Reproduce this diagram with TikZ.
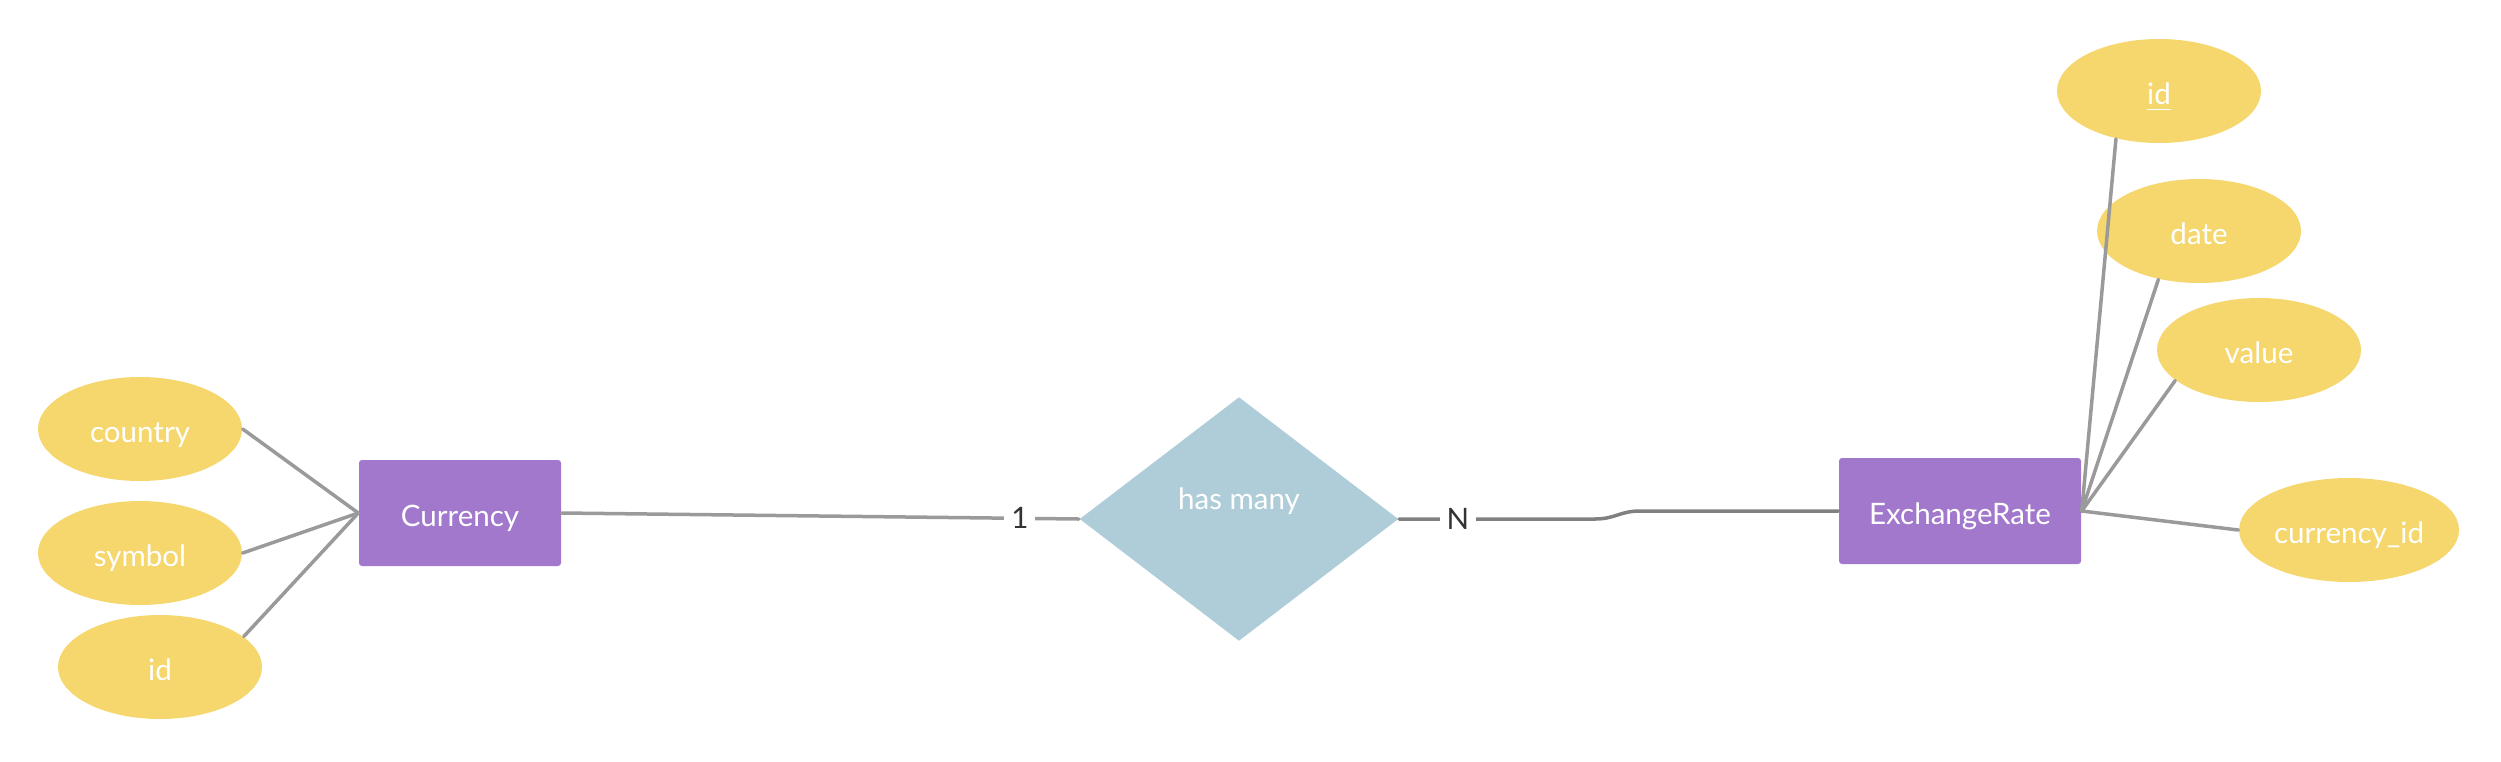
\documentclass[tikz,border=0pt]{standalone}
\usepackage{fontspec}
\setmainfont{Lato}
\usetikzlibrary{shapes.geometric}
\definecolor{attrfill}{HTML}{F5D76E}
\definecolor{entfill}{HTML}{A178CC}
\definecolor{relfill}{HTML}{AFCDD8}
\definecolor{linkgray}{HTML}{9A9A9A}
\definecolor{linkdark}{HTML}{808080}
\definecolor{cardtext}{HTML}{333333}

\begin{document}
\begin{tikzpicture}[x=0.1mm, y=-0.1mm,
    font=\fontsize{8.4}{10}\selectfont,
    attr/.style={ellipse, fill=attrfill, minimum width=20.4mm, minimum height=10.4mm, inner sep=0pt, text=white, text height=2.7mm, text depth=0pt},
    entity/.style={rectangle, fill=entfill, minimum width=20.2mm, minimum height=10.6mm, rounded corners=0.3mm, text=white, text height=2.7mm, text depth=0pt},
    rel/.style={diamond, fill=relfill, minimum width=31.9mm, minimum height=24.4mm, inner sep=0pt},
    link/.style={draw=linkgray, line width=0.35mm, line cap=round},
    card/.style={fill=white, text=cardtext, inner sep=0.7mm}]
    \useasboundingbox (0,0) rectangle (2501,761);

    \node[attr] (country) at (140,429) {country};
    \node[attr] (symbol) at (140,553) {symbol};
    \node[attr] (curid) at (160,667) {id};
    \node[entity] (currency) at (460,513) {Currency};
    \node[rel, label={[text=white, yshift=1.8mm]center:has many}] (hasmany) at (1239,519) {};
    \node[entity, minimum width=24.2mm] (rate) at (1960,511) {ExchangeRate};
    \node[attr] (rateid) at (2159,91) {\underline{id}};
    \node[attr] (date) at (2199,231) {date};
    \node[attr] (value) at (2259,350) {value};
    \node[attr, minimum width=22mm] (curref) at (2349,530) {currency\_id};

    \draw[link] (country.east) -- (currency.west);
    \draw[link] (symbol.east) -- (currency.west);
    \draw[link] (curid.20) -- (currency.west);
    \draw[link] (currency.east) -- node[card, pos=0.886] {1} (hasmany.west);

    \coordinate (bendA) at (1595,519);
    \coordinate (bendB) at (1640,511);
    \draw[link, draw=linkdark] (hasmany.east) -- node[card, pos=0.3] {N} (bendA)
      .. controls (1615,519) and (1620,511) .. (bendB) -- (rate.west);

    \draw[link] (rate.east) -- (rateid.228);
    \draw[link] (rate.east) -- (date.230);
    \draw[link] (rate.east) -- (value.200);
    \draw[link] (rate.east) -- (curref.west);
  \end{tikzpicture}
\end{document}
